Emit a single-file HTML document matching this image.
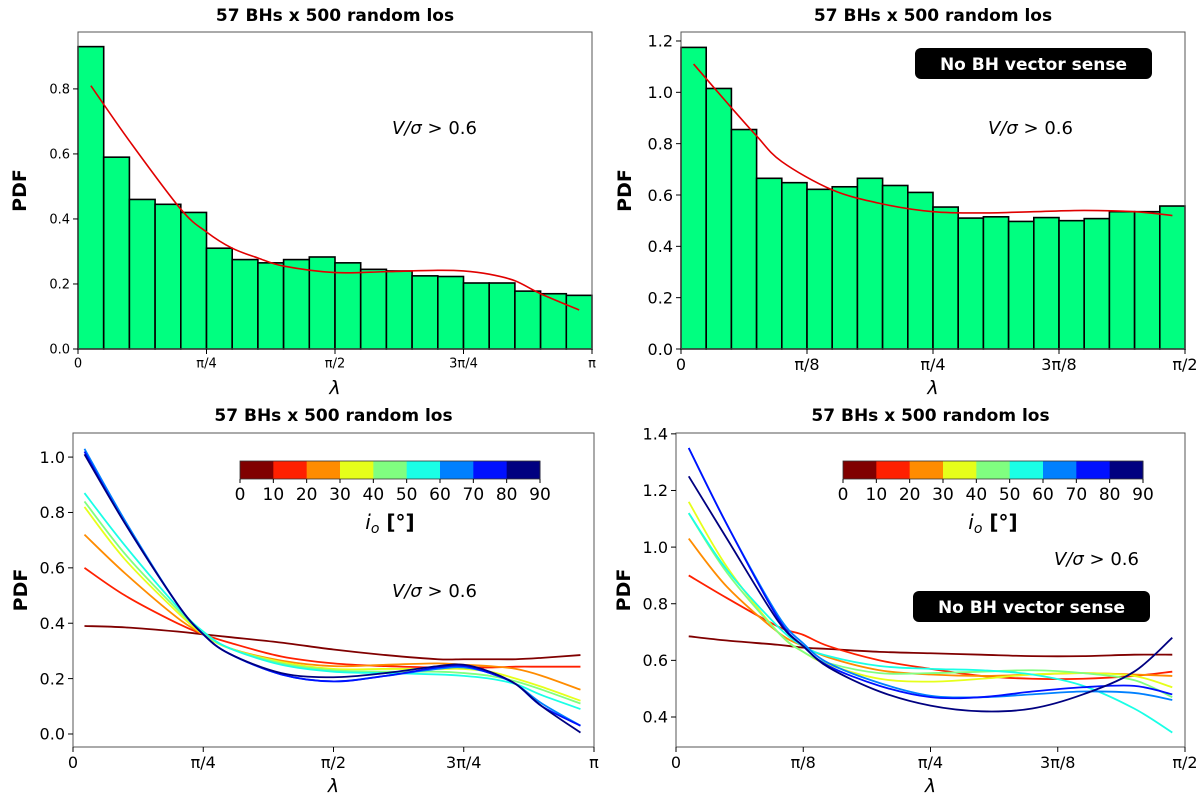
<!DOCTYPE html>
<html><head><meta charset="utf-8"><style>
html,body{margin:0;padding:0;background:#fff;}
svg{display:block;font-family:"DejaVu Sans","Liberation Sans",sans-serif;}
</style></head><body>
<svg id="fig" width="1200" height="798" viewBox="0 0 1200 798"></svg>
<script>
// ---- data ----
const tlBars=[0.93,0.59,0.46,0.445,0.42,0.31,0.275,0.265,0.275,0.283,0.265,0.245,0.24,0.225,0.223,0.203,0.203,0.178,0.17,0.165];
const tlFitX=[0.025,0.1,0.2,0.25,0.3,0.35,0.4,0.5,0.6,0.7,0.75,0.8,0.85,0.9,0.975];
const tlFitY=[0.81,0.64,0.43,0.36,0.31,0.28,0.255,0.235,0.238,0.242,0.24,0.23,0.21,0.17,0.12];
const trBars=[1.175,1.015,0.855,0.665,0.648,0.622,0.632,0.665,0.637,0.61,0.553,0.51,0.515,0.497,0.512,0.5,0.508,0.535,0.535,0.557];
const trFitX=[0.025,0.1,0.15,0.2,0.3,0.4,0.5,0.6,0.7,0.8,0.9,0.975];
const trFitY=[1.11,0.94,0.83,0.73,0.62,0.565,0.535,0.53,0.535,0.54,0.535,0.52];
const blX=[0.022,0.1,0.2,0.25,0.3,0.4,0.5,0.6,0.7,0.75,0.8,0.85,0.9,0.974];
const blC0=[0.39,0.385,0.37,0.36,0.35,0.33,0.305,0.285,0.27,0.27,0.27,0.27,0.275,0.285];
const blC1=[0.60,0.50,0.40,0.36,0.33,0.28,0.255,0.245,0.24,0.24,0.24,0.243,0.243,0.243];
const blC2=[0.72,0.58,0.42,0.36,0.31,0.265,0.245,0.25,0.255,0.25,0.245,0.235,0.21,0.16];
const blC3=[0.82,0.63,0.44,0.36,0.31,0.26,0.235,0.235,0.235,0.235,0.225,0.2,0.17,0.12];
const blC4=[0.84,0.65,0.45,0.365,0.31,0.255,0.23,0.225,0.225,0.22,0.21,0.19,0.16,0.11];
const blC5=[0.87,0.68,0.46,0.37,0.31,0.25,0.225,0.22,0.215,0.21,0.2,0.18,0.14,0.09];
const blC6=[1.03,0.77,0.47,0.36,0.29,0.215,0.19,0.21,0.235,0.24,0.22,0.18,0.11,0.03];
const blC7=[1.02,0.76,0.47,0.36,0.29,0.215,0.19,0.21,0.24,0.245,0.22,0.18,0.10,0.03];
const blC8=[1.01,0.76,0.47,0.36,0.29,0.22,0.205,0.22,0.245,0.25,0.225,0.18,0.10,0.005];
const brX=[0.025,0.1,0.2,0.25,0.3,0.4,0.5,0.6,0.7,0.8,0.9,0.975];
const brC0=[0.685,0.67,0.655,0.645,0.64,0.63,0.625,0.62,0.615,0.615,0.62,0.62];
const brC1=[0.90,0.82,0.72,0.69,0.65,0.60,0.57,0.545,0.535,0.535,0.545,0.56];
const brC2=[1.03,0.86,0.70,0.65,0.61,0.565,0.55,0.545,0.55,0.555,0.55,0.545];
const brC3=[1.16,0.93,0.70,0.63,0.585,0.535,0.525,0.535,0.55,0.555,0.545,0.505];
const brC4=[1.12,0.91,0.70,0.63,0.59,0.555,0.555,0.56,0.565,0.555,0.53,0.47];
const brC5=[1.12,0.92,0.72,0.65,0.615,0.58,0.57,0.565,0.55,0.51,0.43,0.345];
const brC6=[1.35,1.08,0.76,0.66,0.59,0.52,0.475,0.47,0.48,0.49,0.485,0.46];
const brC7=[1.35,1.08,0.75,0.65,0.58,0.51,0.47,0.47,0.49,0.505,0.51,0.48];
const brC8=[1.25,1.03,0.74,0.65,0.575,0.49,0.44,0.42,0.43,0.48,0.56,0.68];
const jetColors=["#800000","#ff2000","#ff8c00","#e6ff1a","#80ff80","#1affe6","#0080ff","#0010ff","#000080"];
const cbTicks=["0","10","20","30","40","50","60","70","80","90"];
const piTicks=["0","π/4","π/2","3π/4","π"];
const pi8Ticks=["0","π/8","π/4","3π/8","π/2"];
const tlYTicks=[0,0.2,0.4,0.6,0.8];
const trYTicks=[0,0.2,0.4,0.6,0.8,1.0,1.2];
const blYTicks=[0,0.2,0.4,0.6,0.8,1.0];
const brYTicks=[0.4,0.6,0.8,1.0,1.2,1.4];

const NS="http://www.w3.org/2000/svg";
const svg=document.getElementById('fig');
function mk(tag,attrs,parent,text){const e=document.createElementNS(NS,tag);for(const k in attrs)e.setAttribute(k,attrs[k]);if(text!==undefined)e.textContent=text;(parent||svg).appendChild(e);return e;}
function smooth(pts){let d=`M${pts[0][0]},${pts[0][1]}`;for(let i=0;i<pts.length-1;i++){const p0=pts[Math.max(0,i-1)],p1=pts[i],p2=pts[i+1],p3=pts[Math.min(pts.length-1,i+2)];d+=` C${p1[0]+(p2[0]-p0[0])/6},${p1[1]+(p2[1]-p0[1])/6} ${p2[0]-(p3[0]-p1[0])/6},${p2[1]-(p3[1]-p1[1])/6} ${p2[0]},${p2[1]}`;}return d;}

function panel(o){
  const g=mk('g',{});
  
  
  const sx=f=>o.x0+f*(o.x1-o.x0);
  const sy=v=>o.yb-(v-o.vmin)*(o.yb-o.yt)/(o.vmax-o.vmin);
  if(o.bars){const n=o.bars.length,w=(o.x1-o.x0)/n;
    o.bars.forEach((v,i)=>{const b=mk('rect',{x:sx(i/n),y:sy(v),width:w,height:sy(0)-sy(v),fill:'#00ff80',stroke:'#000','stroke-width':1.6},g);
      
      });}
  if(o.fit){const p=mk('path',{d:smooth(o.fitX.map((f,i)=>[sx(f),sy(o.fit[i])])),fill:'none',stroke:'#e00000','stroke-width':1.6},g);
    
    }
  if(o.curves){o.curves.forEach((c,k)=>{const p=mk('path',{d:smooth(o.cX.map((f,i)=>[sx(f),sy(c[i])])),fill:'none',stroke:jetColors[k],'stroke-width':1.8},g);
      
      });}
  const fr=mk('rect',{x:o.x0,y:o.yt,width:o.x1-o.x0,height:o.yb-o.yt,fill:'none',stroke:'#555','stroke-width':1},g);
  
  
  o.yTicks.forEach(v=>{const y=sy(v);mk('line',{x1:o.x0-5,x2:o.x0,y1:y,y2:y,stroke:'#000'},g);
    const t=mk('text',{x:o.x0-8,y:y+o.fs*0.36,'text-anchor':'end','font-size':o.fs},g,v.toFixed(1));
    
    });
  o.xTicks.forEach((s,i)=>{const x=sx(i/4);mk('line',{x1:x,x2:x,y1:o.yb,y2:o.yb+5,stroke:'#000'},g);
    const t=mk('text',{x:x,y:o.yb+8+o.fs*0.8,'text-anchor':'middle','font-size':o.fs},g,s);
    
    });
  const tt=mk('text',{x:(o.x0+o.x1)/2,y:o.ty,'text-anchor':'middle','font-size':17,'font-weight':'bold'},g,'57 BHs x 500 random los');
  
  
  const yl=mk('text',{x:0,y:0,transform:`translate(${o.x0-o.ylOff},${(o.yt+o.yb)/2}) rotate(-90)`,'text-anchor':'middle','font-size':19,'font-weight':'bold'},g,'PDF');
  
  
  const xl=mk('text',{x:(o.x0+o.x1)/2,y:o.yb+45,'text-anchor':'middle','font-size':19,'font-style':'italic'},g,'λ');
  
  
  const vt=mk('text',{x:o.vx,y:o.vy,'font-size':18},g);
  
  
  mk('tspan',{'font-style':'italic'},vt,'V/σ');mk('tspan',{},vt,' > 0.6');
  if(o.box){const bg=mk('g',{},g);
    
    mk('rect',{x:o.box[0],y:o.box[1],width:o.box[2],height:o.box[3],rx:6,fill:'#000'},bg);
    mk('text',{x:o.box[0]+o.box[2]/2,y:o.box[1]+o.box[3]/2+6.5,'text-anchor':'middle','font-size':17,'font-weight':'bold',fill:'#fff'},bg,'No BH vector sense');}
  if(o.cb){const cg=mk('g',{},g);
    
    const [cx0,cx1,cy0,cy1]=o.cb,w=(cx1-cx0)/9;
    jetColors.forEach((c,i)=>mk('rect',{x:cx0+i*w,y:cy0,width:w+0.5,height:cy1-cy0,fill:c},cg));
    mk('rect',{x:cx0,y:cy0,width:cx1-cx0,height:cy1-cy0,fill:'none',stroke:'#333','stroke-width':0.8},cg);
    cbTicks.forEach((s,i)=>{const x=cx0+i*w;mk('line',{x1:x,x2:x,y1:cy1,y2:cy1+4,stroke:'#000'},cg);
      mk('text',{x:x,y:cy1+21,'text-anchor':'middle','font-size':17},cg,s);});
    const lt=mk('text',{x:(cx0+cx1)/2,y:cy1+50,'text-anchor':'middle','font-size':20},cg);
    
    
    mk('tspan',{'font-style':'italic'},lt,'i');mk('tspan',{'font-style':'italic','font-size':14,dy:4},lt,'o');mk('tspan',{'font-weight':'bold',dy:-4},lt,' [°]');}
}

panel({name:'panel-top-left',x0:78,x1:592,yt:32,yb:349,vmin:0,vmax:0.975,bars:tlBars,fit:tlFitY,fitX:tlFitX,yTicks:tlYTicks,xTicks:piTicks,fs:13,ty:21,ylOff:52,vx:392,vy:134});
panel({name:'panel-top-right',x0:681,x1:1185,yt:32,yb:349,vmin:0,vmax:1.235,bars:trBars,fit:trFitY,fitX:trFitX,yTicks:trYTicks,xTicks:pi8Ticks,fs:16,ty:21,ylOff:50,vx:988,vy:134,box:[915,48,237,31]});
panel({name:'panel-bottom-left',x0:73,x1:594,yt:433,yb:747,vmin:-0.047,vmax:1.087,curves:[blC0,blC1,blC2,blC3,blC4,blC5,blC6,blC7,blC8],cX:blX,yTicks:blYTicks,xTicks:piTicks,fs:16,ty:421,ylOff:46,vx:392,vy:597,cb:[240,540,461,479]});
panel({name:'panel-bottom-right',x0:676,x1:1185,yt:433,yb:747,vmin:0.294,vmax:1.403,curves:[brC0,brC1,brC2,brC3,brC4,brC5,brC6,brC7,brC8],cX:brX,yTicks:brYTicks,xTicks:pi8Ticks,fs:16,ty:421,ylOff:46,vx:1054,vy:565,box:[913,591,237,31],cb:[843,1143,461,479]});
</script>
</body></html>
